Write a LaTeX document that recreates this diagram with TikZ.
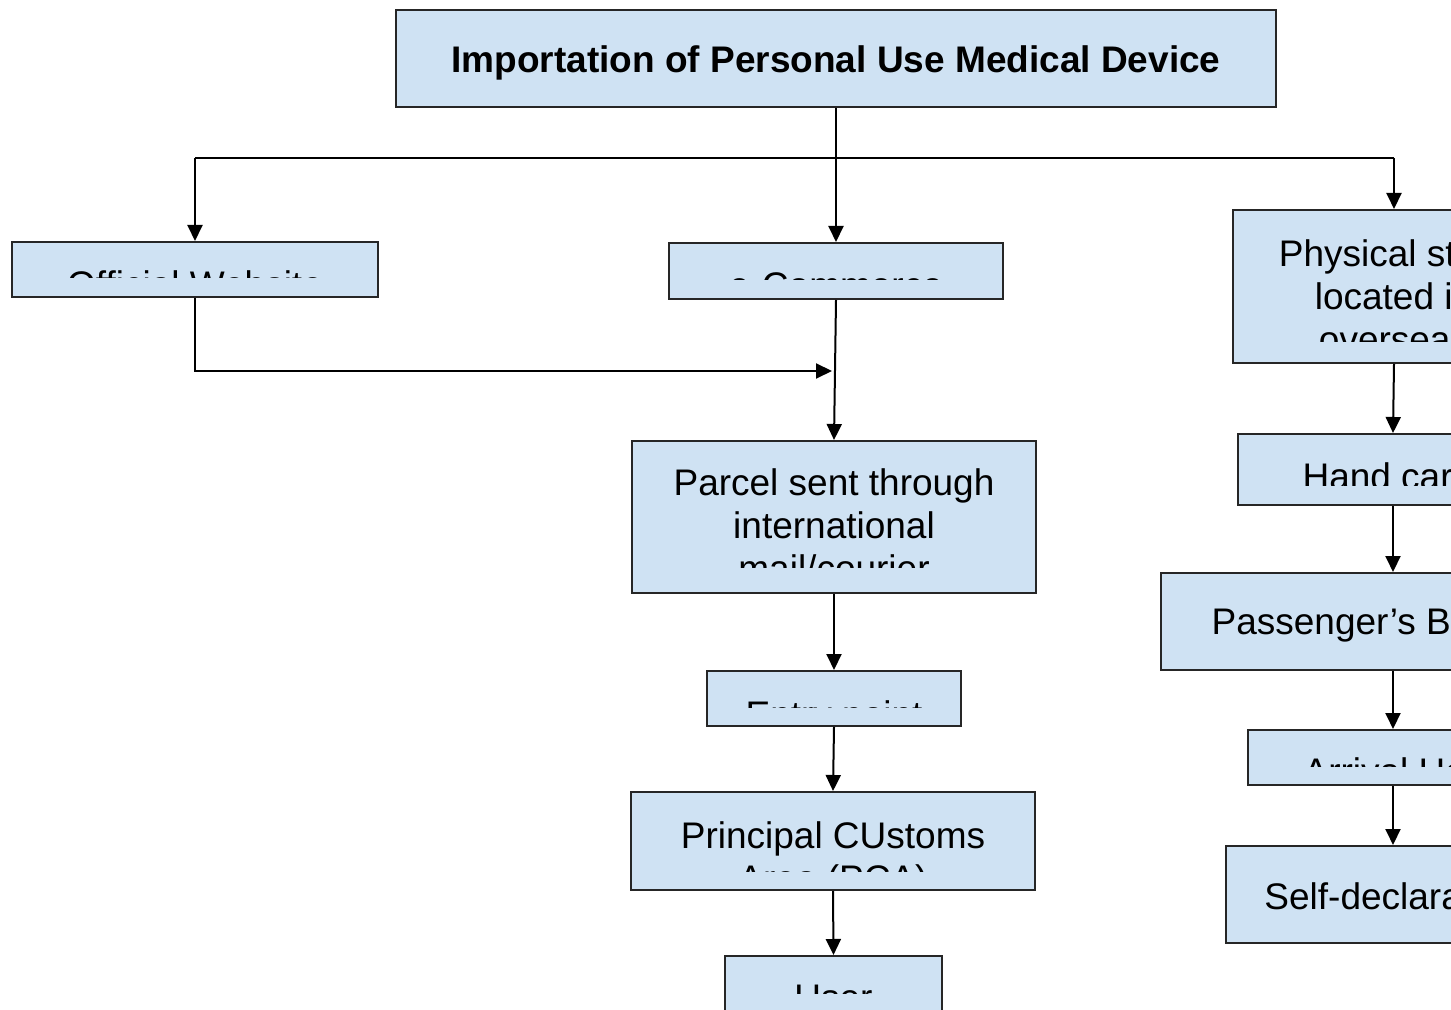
\documentclass[tikz,border=0pt]{standalone}
\usepackage{fontspec}
\setmainfont{Liberation Sans}
\usetikzlibrary{arrows.meta,fit}
\definecolor{boxblue}{HTML}{CFE2F3}
\tikzset{
  x=0.5pt, y=-0.5pt,
  box/.style={draw=black!85, line width=1pt, fill=boxblue, inner sep=0pt},
  lbl/.style={inner sep=0pt, align=center, anchor=north, text=black,
              font=\fontsize{18.5}{21.5}\selectfont},
  link/.style={draw=black, line width=1pt},
  flow/.style={link, -{Triangle[length=8pt,width=7.5pt]}},
}
\begin{document}
\begin{tikzpicture}
\useasboundingbox (0,0) rectangle (1451,1010);
\clip (0,0) rectangle (1451,1010);

% boxes
\node[box, fit={(396,10) (1276,107)}]   (title)  {};
\node[box, fit={(12,242) (378,297)}]    (web)    {};
\node[box, fit={(669,243) (1003,299)}]  (ecom)   {};
\node[box, fit={(1233,210) (1555,363)}] (store)  {};
\node[box, fit={(632,441) (1036,593)}]  (parcel) {};
\node[box, fit={(707,671) (961,726)}]   (entry)  {};
\node[box, fit={(631,792) (1035,890)}]  (pca)    {};
\node[box, fit={(725,956) (942,1012)}]  (user)   {};
\node[box, fit={(1238,434) (1548,505)}] (hand)   {};
\node[box, fit={(1161,573) (1625,670)}] (bag)    {};
\node[box, fit={(1248,730) (1538,785)}] (hall)   {};
\node[box, fit={(1226,846) (1560,943)}] (decl)   {};

% labels (overflowing text is cut off at the box's text area)
\node[lbl, font=\fontsize{18.5}{21.5}\selectfont\bfseries] (titleT) at (836,45)
  {Importation of Personal Use Medical Device};
\begin{scope}
  \clip (12,242) rectangle (378,278);
  \node[lbl] (webT) at (195,270) {Official Website};
\end{scope}
\begin{scope}
  \clip (669,243) rectangle (1003,280);
  \node[lbl] (ecomT) at (836,272) {e-Commerce};
\end{scope}
\begin{scope}
  \clip (1233,210) rectangle (1555,342);
  \node[lbl] (storeT) at (1394,239) {Physical store\\located in\\overseas};
\end{scope}
\begin{scope}
  \clip (632,441) rectangle (1036,567);
  \node[lbl] (parcelT) at (834,468) {Parcel sent through\\international\\mail/courier};
\end{scope}
\begin{scope}
  \clip (707,671) rectangle (961,707);
  \node[lbl] (entryT) at (834,700) {Entry point};
\end{scope}
\begin{scope}
  \clip (631,792) rectangle (1035,871);
  \node[lbl] (pcaT) at (833,821) {Principal CUstoms\\Area (PCA)};
\end{scope}
\begin{scope}
  \clip (725,956) rectangle (942,993);
  \node[lbl] (userT) at (833.5,985) {User};
\end{scope}
\begin{scope}
  \clip (1238,434) rectangle (1548,486);
  \node[lbl] (handT) at (1393,462) {Hand carry};
\end{scope}
\node[lbl] (bagT) at (1393,609) {Passenger’s Baggage};
\begin{scope}
  \clip (1248,730) rectangle (1538,766);
  \node[lbl] (hallT) at (1393,757) {Arrival Hall};
\end{scope}
\node[lbl] (declT) at (1393,882) {Self-declaration};

% branching from the title
\coordinate (brL) at (195,158);
\coordinate (brR) at (1394,158);
\coordinate (join) at (832,371);
\draw[link] (brL) -- (brR);
\draw[flow] (title.south) -- (ecom.north);
\draw[flow] (brL) -- (web.north);
\draw[flow] (brR) -- (store.north);

% parcel route
\draw[flow] (web.south) |- (join);
\draw[flow] (ecom.south) -- (parcel.north);
\draw[flow] (parcel.south) -- (entry.north);
\draw[flow] (entry.south) -- (pca.north);
\draw[flow] (pca.south) -- (user.north);

% passenger route
\draw[flow] (store.south) -- (hand.north);
\draw[flow] (hand.south) -- (bag.north);
\draw[flow] (bag.south) -- (hall.north);
\draw[flow] (hall.south) -- (decl.north);
\end{tikzpicture}
\end{document}
